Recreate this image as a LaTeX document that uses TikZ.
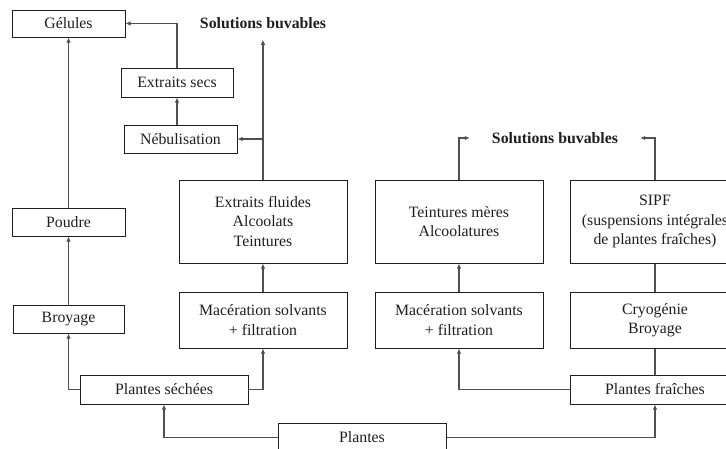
\documentclass[tikz,border=0pt]{standalone}
\usepackage{fontspec}
\setmainfont{Liberation Serif}
\usetikzlibrary{arrows.meta,calc}
\definecolor{txt}{HTML}{1E1E1E}
\definecolor{ln}{HTML}{505050}
\begin{document}
\begin{tikzpicture}[x=1pt,y=-1pt,
  box/.style={draw=txt,line width=1pt,rectangle,align=center,inner sep=0pt,text=txt,
    font=\fontsize{15.8}{19.5}\selectfont},
  lbl/.style={inner sep=0pt,text=txt,font=\fontsize{15.8}{19.5}\selectfont\bfseries},
  arr/.style={draw=ln,line width=1.1pt,-{Latex[length=5pt,width=4.5pt]}},
  ln/.style={draw=ln,line width=1.1pt}]
\useasboundingbox (0,0) rectangle (726,448);
\clip (0,0) rectangle (726,448);
% left part
\node[box,minimum width=113pt,minimum height=27pt] (gel) at (68.5,23.5) {Gélules};
\node[lbl] (sol1) at (263,23) {Solutions buvables};
\node[box,minimum width=112pt,minimum height=29pt] (esec) at (177,82.5) {Extraits secs};
\node[box,minimum width=113pt,minimum height=28pt] (neb) at (180.5,139) {Nébulisation};
\node[box,minimum width=168pt,minimum height=83pt] (efl) at (263,221.5) {Extraits fluides\\Alcoolats\\Teintures};
\node[box,minimum width=113pt,minimum height=28pt] (poud) at (68.5,222) {Poudre};
\node[box,minimum width=111pt,minimum height=28pt] (broy) at (68.5,319) {Broyage};
\node[box,minimum width=168pt,minimum height=56pt] (mac1) at (263,320) {Macération solvants\\+ filtration};
\node[box,minimum width=168pt,minimum height=29pt] (psec) at (164,389.5) {Plantes séchées};
\node[box,minimum width=168pt,minimum height=29pt] (pl) at (362,437.5) {Plantes};
% right part
\node[lbl] (sol2) at (555,138) {Solutions buvables};
\node[box,minimum width=168pt,minimum height=83pt] (teint) at (459,221.5) {Teintures mères\\Alcoolatures};
\node[box,minimum width=168pt,minimum height=56pt] (mac2) at (459,320) {Macération solvants\\+ filtration};
\node[box,minimum width=170pt,minimum height=83pt] (sipf) at (655,221.5) {SIPF\\(suspensions intégrales\\de plantes fraîches)};
\node[box,minimum width=170pt,minimum height=56pt] (cryo) at (655,320) {Cryogénie\\Broyage};
\node[box,minimum width=170pt,minimum height=29pt] (pfr) at (655,389.5) {Plantes fraîches};
% connectors left
\draw[arr] (poud.north) -- (gel.south);
\draw[arr] (broy.north) -- (poud.south);
\draw[arr] (psec.west) -| (broy.south);
\draw[arr] (psec.east) -| (mac1.south);
\draw[arr] (pl.west) -| (psec.south);
\draw[arr] (pl.east) -| (pfr.south);
\draw[arr] (mac1.north) -- (efl.south);
\draw[arr,shorten >=11pt] (efl.north) -- (sol1.south);
\coordinate (j1) at (efl.north |- neb.east);
\draw[arr] (j1) -- (neb.east);
\draw[arr] (neb.north -| esec.south) -- (esec.south);
\draw[arr] (esec.north) |- (gel.east);
% connectors right
\draw[arr] (mac2.north) -- (teint.south);
\draw[arr] (pfr.west) -| (mac2.south);
\draw[ln] (pfr.north) -- (cryo.south);
\draw[ln] (cryo.north) -- (sipf.south);
\draw[arr] (teint.north) |- ([xshift=-22pt]sol2.west);
\draw[arr] (sipf.north) |- ([xshift=22pt]sol2.east);
\end{tikzpicture}
\end{document}
